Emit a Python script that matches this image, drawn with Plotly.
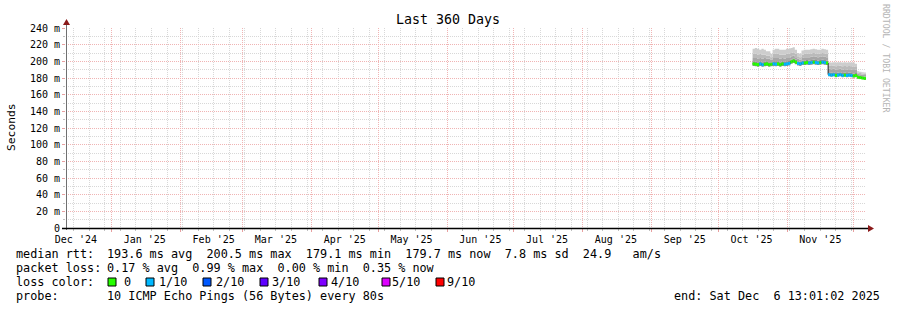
import plotly.graph_objects as go
import pandas as pd

# ---------------- data ----------------
range_start = "2024-12-11 13:01:02"
range_end = "2025-12-06 13:01:02"

days = pd.date_range("2025-10-16 12:00", periods=52, freq="D")

median = [197, 196.5, 196, 197, 196, 196.5, 197, 196, 196.5, 197,
          196.5, 197, 196, 197, 196.5, 197, 197.5, 199.5, 200.5, 199,
          197.5, 197, 198, 198, 198.5, 198, 198.5, 199, 198.5, 198,
          198.5, 199, 198.5, 198, 184, 183.5, 184, 183, 183.5, 184,
          183, 183.5, 183, 183.5, 183, 182.5, 183, 181, 180.5, 180,
          179.5, 179.7]
ping_min = [194.5, 194, 193.5, 194.5, 193.5, 194, 194.5, 193.5, 194, 194.5,
            194, 194.5, 193.5, 194.5, 194, 194.5, 195, 197, 198, 196.5,
            195, 194.5, 195.5, 195.5, 196, 195.5, 196, 196.5, 196, 195.5,
            196, 196.5, 196, 195.5, 182, 181.5, 182, 181, 181.5, 182,
            181, 181.5, 181, 181.5, 181, 180.5, 181, 179.5, 179, 178.5,
            178, 178.3]
ping_q1 = [200, 199.5, 199, 200, 199, 199.5, 200, 199, 199, 200,
           200, 200, 199, 200, 199.5, 200, 200.5, 202, 203, 202,
           200, 199.5, 201, 201, 201.5, 201, 201.5, 202, 201.5, 201,
           201.5, 202, 201.5, 201, 187, 186.5, 187, 186, 186.5, 187,
           186, 186.5, 186, 186.5, 186, 185.5, 186, 183, 182.5, 182,
           181.5, 181.7]
ping_q2 = [204, 204, 203, 204, 203, 204, 203, 203, 202, 204,
           204, 204, 203, 204, 203, 204, 204, 206, 207, 205,
           203, 202, 204, 205, 205, 205, 205.5, 206, 205.5, 205,
           205.5, 206, 205.5, 205, 191, 190.5, 191, 190, 190.5, 191,
           190, 190.5, 190, 190.5, 190, 189.5, 190, 185, 184.5, 184,
           183.5, 183.5]
ping_q3 = [209, 209, 208, 209, 208, 208, 207, 207, 205, 209,
           209, 209, 208, 208, 208, 209, 209, 210, 211, 209,
           206, 205, 208, 209, 209, 209, 209.5, 210, 209.5, 209,
           209.5, 210, 209.5, 209, 195, 194.5, 195, 194, 194.5, 195,
           194, 194.5, 194, 194.5, 194, 193.5, 194, 186.5, 186, 185.5,
           185, 185]
ping_max = [215, 216, 215, 214, 215, 214, 212, 212, 209, 214,
            215, 215, 214, 214, 214, 215, 215, 216, 217, 214,
            210, 209, 213, 214, 214, 214, 214.5, 215, 214.5, 214,
            214, 215, 214.5, 214, 199, 198.5, 199, 198.5, 199, 199,
            198.5, 199, 198.5, 199, 198.5, 198.5, 197, 188, 187.5, 187,
            186.5, 186.5]
loss = [0, 0, 0, 1, 1, 0, 0, 0, 0, 1,
        1, 0, 0, 0, 1, 1, 1, 0, 0, 0,
        1, 1, 1, 0, 0, 1, 1, 0, 1, 1,
        0, 1, 1, 0, 1, 1, 1, 0, 1, 1,
        1, 0, 1, 1, 1, 0, 0, 0, 0, 0,
        0, 0]

y_ticks = [0, 20, 40, 60, 80, 100, 120, 140, 160, 180, 200, 220, 240]
y_labels = ["0", "20 m", "40 m", "60 m", "80 m", "100 m", "120 m", "140 m",
            "160 m", "180 m", "200 m", "220 m", "240 m"]
month_label_dates = ["2024-12-16", "2025-01-16", "2025-02-16", "2025-03-16", "2025-04-16", "2025-05-16",
                     "2025-06-16", "2025-07-16", "2025-08-16", "2025-09-16", "2025-10-16", "2025-11-16"]
month_labels = ["Dec '24", "Jan '25", "Feb '25", "Mar '25", "Apr '25", "May '25",
                "Jun '25", "Jul '25", "Aug '25", "Sep '25", "Oct '25", "Nov '25"]

loss_classes = ["0", "1/10", "2/10", "3/10", "4/10", "5/10", "9/10"]
loss_colors = ["#26ff00", "#00b8ff", "#0059ff", "#5e00ff", "#7e00ff", "#dd00ff", "#ff0000"]
loss_index = {0: 0, 1: 1, 2: 2, 3: 3, 4: 4, 5: 5, 9: 6}

title_text = "Last 360 Days"
stat_rows = [
    ("median rtt:", "193.6 ms avg  200.5 ms max  179.1 ms min  179.7 ms now  7.8 ms sd  24.9   am/s"),
    ("packet loss:", "0.17 % avg  0.99 % max  0.00 % min  0.35 % now"),
    ("loss color:", ""),
    ("probe:", "10 ICMP Echo Pings (56 Bytes) every 80s"),
]
end_text = "end: Sat Dec  6 13:01:02 2025"
watermark = "RRDTOOL / TOBI OETIKER"

# ---------------- layout helpers ----------------
W, H = 897, 310
L, R, T, B = 66, 866, 28, 228
MONO = "DejaVu Sans Mono"
MAJOR_GRID = "#f0b4b4"
MINOR_GRID = "#d8d8d8"


def px(x):
    return (x - L) / (R - L)


def py(y):
    return (B - y) / (B - T)


def nb(s):
    return s.replace(" ", "\u00a0")


x_steps = list(days) + [pd.Timestamp(range_end)]


def ext(vals):
    return list(vals) + [vals[-1]]


fig = go.Figure()

fig.add_trace(go.Scatter(x=[range_start, range_end], y=[None, None], xaxis="x2", yaxis="y",
                         mode="lines", showlegend=False, hoverinfo="skip"))

bands = [
    (ping_min, median, "#8e8e8e"),
    (median, ping_q1, "#8e8e8e"),
    (ping_q1, ping_q2, "#a6a6a6"),
    (ping_q2, ping_q3, "#bababa"),
    (ping_q3, ping_max, "#cdcdcd"),
]
for lo, hi, col in bands:
    fig.add_trace(go.Scatter(x=x_steps, y=ext(lo), mode="lines", line=dict(width=0, shape="hv"),
                             showlegend=False, hoverinfo="skip"))
    fig.add_trace(go.Scatter(x=x_steps, y=ext(hi), mode="lines", line=dict(width=0, shape="hv"),
                             fill="tonexty", fillcolor=col, showlegend=False, hoverinfo="skip"))

fig.add_trace(go.Scatter(x=x_steps, y=ext(median), mode="lines",
                         line=dict(width=1, color="#202020", shape="hv"),
                         showlegend=False, hoverinfo="skip"))

for cls, idx in loss_index.items():
    xs, ys = [], []
    for i in range(len(days)):
        if loss[i] == cls:
            xs += [x_steps[i], x_steps[i + 1], None]
            ys += [median[i], median[i], None]
    if xs:
        fig.add_trace(go.Scatter(x=xs, y=ys, mode="lines",
                                 line=dict(width=3, color=loss_colors[idx]),
                                 showlegend=False, hoverinfo="skip"))

annotations = []
annotations.append(dict(x=px(448), y=py(19), xref="paper", yref="paper", text=nb(title_text),
                        showarrow=False, font=dict(family=MONO, size=13.3, color="#000"),
                        xanchor="center", yanchor="middle"))
annotations.append(dict(x=px(11), y=py(127), xref="paper", yref="paper", text="Seconds",
                        showarrow=False, textangle=-90, font=dict(family=MONO, size=11.3, color="#000"),
                        xanchor="center", yanchor="middle"))
annotations.append(dict(x=px(886), y=py(59), xref="paper", yref="paper", text=nb(watermark),
                        showarrow=False, textangle=90, font=dict(family=MONO, size=8.2, color="#b4b4b4"),
                        xanchor="center", yanchor="middle"))
row_y = [254, 268, 282, 296]
for (lab, val), yy in zip(stat_rows, row_y):
    annotations.append(dict(x=px(14), y=py(yy), xref="paper", yref="paper", text=nb(lab),
                            showarrow=False, font=dict(family=MONO, size=11.8, color="#000"),
                            xanchor="left", yanchor="middle"))
    if val:
        annotations.append(dict(x=px(105), y=py(yy), xref="paper", yref="paper", text=nb(val),
                                showarrow=False, font=dict(family=MONO, size=11.8, color="#000"),
                                xanchor="left", yanchor="middle"))
annotations.append(dict(x=px(882), y=py(296), xref="paper", yref="paper", text=nb(end_text),
                        showarrow=False, font=dict(family=MONO, size=11.8, color="#000"),
                        xanchor="right", yanchor="middle"))

shapes = []
box_x = [108, 146, 203, 260, 319, 382, 436]
lab_x = [124, 159, 216, 272, 331, 392, 447]
for bx, lx, lab, col in zip(box_x, lab_x, loss_classes, loss_colors):
    shapes.append(dict(type="rect", xref="paper", yref="paper", x0=px(bx), x1=px(bx + 8),
                       y0=py(278), y1=py(286), fillcolor=col, line=dict(color="#000", width=1)))
    annotations.append(dict(x=px(lx - 2), y=py(282), xref="paper", yref="paper", text=nb(lab),
                            showarrow=False, font=dict(family=MONO, size=11.8, color="#000"),
                            xanchor="left", yanchor="middle"))

shapes.append(dict(type="line", xref="paper", yref="paper", x0=px(66.5), x1=px(66.5), y0=py(230), y1=py(22),
                   line=dict(color="#707070", width=1), layer="above"))
shapes.append(dict(type="line", xref="paper", yref="paper", x0=px(62), x1=px(869), y0=py(228.5), y1=py(228.5),
                   line=dict(color="#000000", width=1.5), layer="above"))
shapes.append(dict(type="path", xref="paper", yref="paper",
                   path=f"M {px(868)} {py(225)} L {px(874)} {py(228.5)} L {px(868)} {py(232)} Z",
                   fillcolor="#8b1a1a", line=dict(width=0), layer="above"))
shapes.append(dict(type="path", xref="paper", yref="paper",
                   path=f"M {px(63)} {py(25)} L {px(66.5)} {py(19)} L {px(70)} {py(25)} Z",
                   fillcolor="#8b1a1a", line=dict(width=0), layer="above"))

fig.update_layout(
    width=W, height=H,
    margin=dict(l=L, r=W - R, t=T, b=H - B, pad=0),
    paper_bgcolor="white", plot_bgcolor="white",
    showlegend=False,
    xaxis=dict(type="date", range=[range_start, range_end], showticklabels=False,
               showgrid=True, gridcolor=MAJOR_GRID, griddash="1px,1px", gridwidth=1,
               tick0="2025-01-01", dtick="M1", ticks="outside", ticklen=3, tickcolor="#e8a0a0",
               zeroline=False, showline=False,
               minor=dict(tick0="2024-12-15", dtick=7 * 86400000, showgrid=True, gridcolor=MINOR_GRID,
                          griddash="1px,1px", ticks="outside", ticklen=2, tickcolor="#c0c0c0")),
    xaxis2=dict(type="date", range=[range_start, range_end], overlaying="x", anchor="y", side="bottom",
                tickmode="array", tickvals=month_label_dates, ticktext=[nb(t) for t in month_labels],
                showgrid=False, ticks="", zeroline=False, showline=False, ticklabelstandoff=4,
                tickfont=dict(family=MONO, size=10, color="#000")),
    yaxis=dict(range=[0, 240], tickmode="array", tickvals=y_ticks, ticktext=[nb(t) for t in y_labels],
               showgrid=True, gridcolor=MAJOR_GRID, griddash="1px,1px", gridwidth=1,
               ticks="outside", ticklen=3, tickcolor="#e8a0a0", zeroline=False, showline=False,
               tickfont=dict(family=MONO, size=10, color="#000"),
               minor=dict(tickmode="linear", tick0=0, dtick=10, showgrid=True, gridcolor=MINOR_GRID,
                          griddash="1px,1px", ticks="outside", ticklen=2, tickcolor="#c0c0c0")),
    annotations=annotations,
    shapes=shapes,
)

fig.write_html("out.html")
